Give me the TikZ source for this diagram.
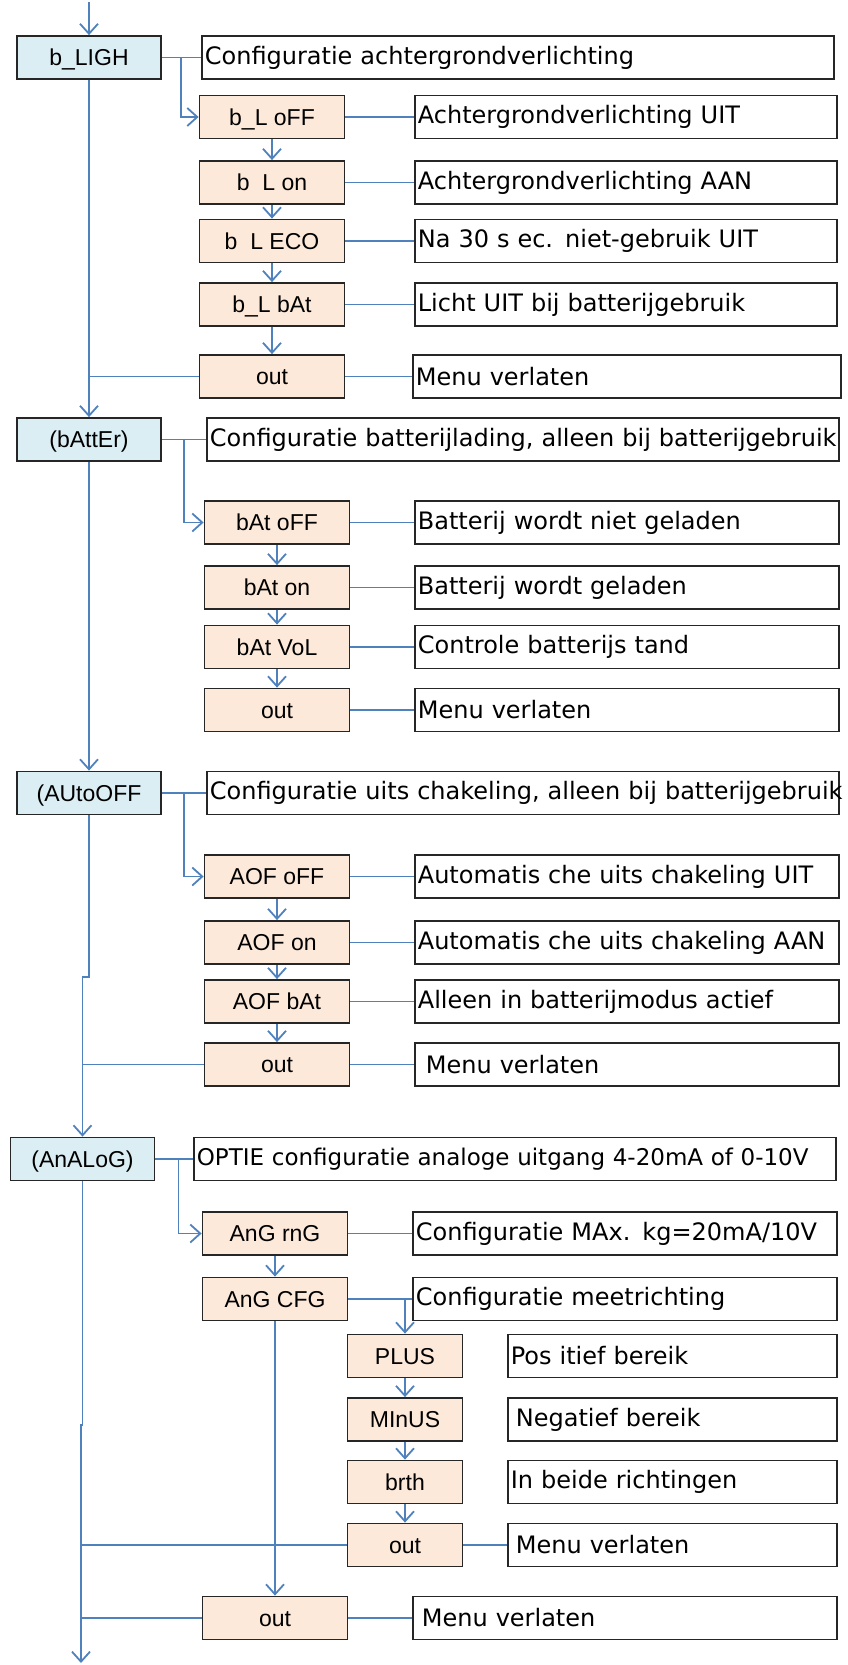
\documentclass[tikz,border=0pt]{standalone}
\usepackage{fontspec}
\setmainfont{Liberation Sans}
\newfontfamily\descfont{DejaVu Sans}
\usetikzlibrary{arrows.meta, positioning}

\definecolor{hdrblue}{HTML}{DBEEF4}
\definecolor{itemorange}{HTML}{FDE9D9}
\definecolor{linkblue}{HTML}{4F81BD}

\begin{document}
\begin{tikzpicture}[
    x=1pt, y=-1pt,
    >={Straight Barb[length=10pt,width=18pt]},
    on grid,
    box/.style={draw=black!85, line width=1.8pt, minimum height=43pt,
        inner sep=0pt, text height=16pt, text depth=0pt,
        font=\fontsize{23}{27}\selectfont},
    hdr/.style={box, fill=hdrblue, minimum width=144pt},
    item/.style={box, fill=itemorange, minimum width=145pt},
    sub/.style={box, fill=itemorange, minimum width=115pt},
    desc/.style={draw=black!85, line width=1.7pt, fill=white, anchor=west,
        minimum height=43pt, inner xsep=3pt, inner ysep=0pt, text width=#1,
        align=left, font=\descfont\fontsize{24}{28}\selectfont},
    desc/.default=418pt,
    link/.style={draw=linkblue, line width=1.8pt, -},
    arr/.style={link, ->},
]
    \useasboundingbox (0,0) rectangle (847,1665);

    \coordinate (entry) at (89,2);
    \coordinate (exit)  at (81,1663);

    \node[hdr]                       (LIGH) at (89,57.5) {b\_LIGH};
    \node[item]                      (Loff) at (272,117) {b\_L oFF};
    \node[item, below=65.5pt of Loff] (Lon)  {b\phantom{\_}L on};
    \node[item, below=58.5pt of Lon]  (Leco) {b\phantom{\_}L ECO};
    \node[item, below=63.5pt of Leco] (Lbat) {b\_L bAt};
    \node[item, below=72pt of Lbat]   (Lout) {out};

    \node[desc=626pt] (dLIGH) at (201,0 |- LIGH) {Configuratie achtergrondverlichting};
    \node[desc=416pt] (dLoff) at (414,0 |- Loff) {Achtergrondverlichting UIT};
    \node[desc=416pt] (dLon)  at (414,0 |- Lon)  {Achtergrondverlichting AAN};
    \node[desc=416pt] (dLeco) at (414,0 |- Leco) {Na 30 s ec. niet-gebruik UIT};
    \node[desc=416pt] (dLbat) at (414,0 |- Lbat) {Licht UIT bij batterijgebruik};
    \node[desc=422pt] (dLout) at (412,0 |- Lout) {Menu verlaten};

    \node[hdr]                       (BATT) at (89,439.5) {(bAttEr)};
    \node[item]                      (Boff) at (277,522.5) {bAt oFF};
    \node[item, below=65pt of Boff]   (Bon)  {bAt on};
    \node[item, below=59.5pt of Bon]  (Bvol) {bAt VoL};
    \node[item, below=63pt of Bvol]   (Bout) {out};

    \node[desc=626pt] (dBATT) at (206,0 |- BATT) {\mbox{Configuratie batterijlading, alleen bij batterijgebruik}};
    \node[desc] (dBoff) at (414,0 |- Boff) {Batterij wordt niet geladen};
    \node[desc] (dBon)  at (414,0 |- Bon)  {Batterij wordt geladen};
    \node[desc] (dBvol) at (414,0 |- Bvol) {Controle batterijs tand};
    \node[desc] (dBout) at (414,0 |- Bout) {Menu verlaten};

    \node[hdr]                       (AUTO) at (89,793) {(AUtoOFF};
    \node[item]                      (Aoff) at (277,876.5) {AOF oFF};
    \node[item, below=66pt of Aoff]   (Aon)  {AOF on};
    \node[item, below=59pt of Aon]    (Abat) {AOF bAt};
    \node[item, below=63pt of Abat]   (Aout) {out};

    \node[desc=626pt] (dAUTO) at (206,0 |- AUTO) {\mbox{Configuratie uits chakeling, alleen bij batterijgebruik}};
    \node[desc] (dAoff) at (414,0 |- Aoff) {Automatis che uits chakeling UIT};
    \node[desc] (dAon)  at (414,0 |- Aon)  {Automatis che uits chakeling AAN};
    \node[desc] (dAbat) at (414,0 |- Abat) {Alleen in batterijmodus actief};
    \node[desc] (dAout) at (414,0 |- Aout) {\hspace{8pt}Menu verlaten};

    \node[hdr]                       (ANLG)  at (82.5,1159) {(AnALoG)};
    \node[item]                      (Grng)  at (275,1233.5) {AnG rnG};
    \node[item, below=65.5pt of Grng] (Gcfg)  {AnG CFG};
    \node[sub]                       (Plus)  at (405,1356) {PLUS};
    \node[sub, below=63.5pt of Plus]  (Minus) {MInUS};
    \node[sub, below=62.5pt of Minus] (Brth)  {brth};
    \node[sub, below=63pt of Brth]    (Iout)  {out};
    \node[item]                      (Gout)  at (275,1618) {out};

    \node[desc=636pt, font=\descfont\fontsize{23}{27}\selectfont] (dANLG) at (193,0 |- ANLG)
        {\mbox{OPTIE configuratie analoge uitgang 4-20mA of 0-10V}};
    \node[desc]       (dGrng)  at (412,0 |- Grng)  {Configuratie MAx. kg=20mA/10V};
    \node[desc]       (dGcfg)  at (412,0 |- Gcfg)  {Configuratie meetrichting};
    \node[desc=323pt] (dPlus)  at (507,0 |- Plus)  {Pos itief bereik};
    \node[desc=323pt] (dMinus) at (507,0 |- Minus) {\hspace{5pt}Negatief bereik};
    \node[desc=323pt] (dBrth)  at (507,0 |- Brth)  {In beide richtingen};
    \node[desc=323pt] (dIout)  at (507,0 |- Iout)  {\hspace{5pt}Menu verlaten};
    \node[desc]       (dGout)  at (412,0 |- Gout)  {\hspace{6pt}Menu verlaten};

    \draw[arr] (entry) -- (LIGH);
    \draw[arr] (LIGH) -- (BATT);
    \draw[arr] (BATT) -- (AUTO);
    \draw[arr] (AUTO) -- ++(0,184) -| (ANLG);
    \draw[arr] (ANLG) -- ++(0,266) -| (exit);

    \draw[arr] ([xshift=19pt]LIGH.east) |- (Loff);
    \draw[arr] ([xshift=22pt]BATT.east) |- (Boff);
    \draw[arr] ([xshift=22pt]AUTO.east) |- (Aoff);
    \draw[arr] ([xshift=23pt]ANLG.east) |- (Grng);
    \draw[arr] (Gcfg.east -| Plus) -- (Plus);

    \path[arr]
        (Loff) edge (Lon)   (Lon) edge (Leco)   (Leco) edge (Lbat)   (Lbat) edge (Lout)
        (Boff) edge (Bon)   (Bon) edge (Bvol)   (Bvol) edge (Bout)
        (Aoff) edge (Aon)   (Aon) edge (Abat)   (Abat) edge (Aout)
        (Grng) edge (Gcfg)  (Gcfg) edge (Gout)
        (Plus) edge (Minus) (Minus) edge (Brth) (Brth) edge (Iout)
    ;

    \path[link]
        (LIGH) edge (dLIGH) (Loff) edge (dLoff) (Lon) edge (dLon)
        (Leco) edge (dLeco) (Lbat) edge (dLbat) (Lout) edge (dLout)
        (BATT) edge (dBATT) (Boff) edge (dBoff) (Bon) edge (dBon)
        (Bvol) edge (dBvol) (Bout) edge (dBout)
        (AUTO) edge (dAUTO) (Aoff) edge (dAoff) (Aon) edge (dAon)
        (Abat) edge (dAbat) (Aout) edge (dAout)
        (ANLG) edge (dANLG) (Grng) edge (dGrng) (Gcfg) edge (dGcfg)
        (Iout) edge (dIout) (Gout) edge (dGout)
    ;

    \draw[link] (Lout) -- (Lout -| LIGH);
    \draw[link] (Aout) -- (Aout -| ANLG);
    \draw[link] (Iout) -- (Iout -| exit);
    \draw[link] (Gout) -- (Gout -| exit);
\end{tikzpicture}
\end{document}
